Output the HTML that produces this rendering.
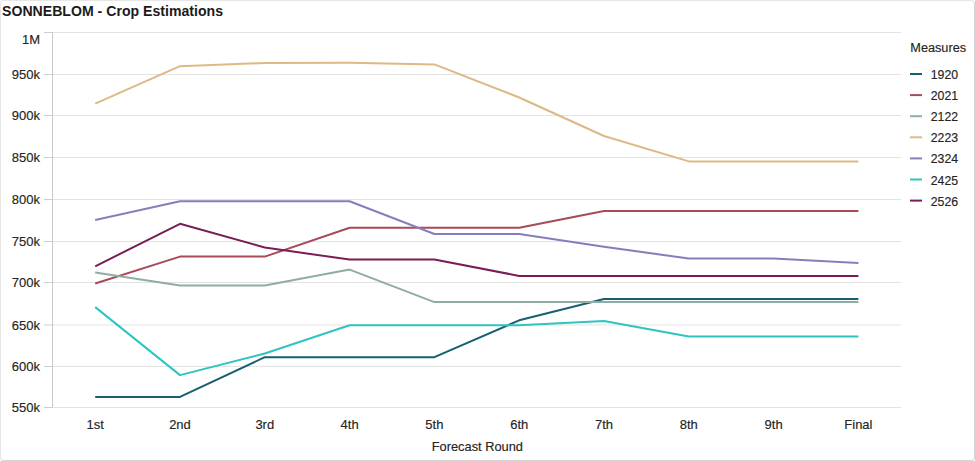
<!DOCTYPE html>
<html><head><meta charset="utf-8"><style>
html,body{margin:0;padding:0;background:#fff;}
.wrap{position:relative;width:975px;height:461px;overflow:hidden;background:#fff;}
.border{position:absolute;left:0;top:0;width:973px;height:459px;border:1px solid #e6e6e6;border-right-color:#d4d4d4;border-bottom-color:#d4d4d4;border-radius:4px;}
.title{position:absolute;left:2px;top:0px;font-family:"Liberation Sans", sans-serif;font-weight:bold;font-size:14px;color:#1b1b1b;line-height:24px;white-space:nowrap;}
svg{position:absolute;left:0;top:0;}
svg text{font-family:"Liberation Sans", sans-serif;}
svg text.t{stroke:#252423;stroke-width:0.15px;}
</style></head><body><div class="wrap">
<div class="border"></div>
<svg width="975" height="461" viewBox="0 0 975 461">
<line x1="52" y1="32.50" x2="901" y2="32.50" stroke="#e3e3e3" stroke-width="1"/>
<line x1="44" y1="32.50" x2="52" y2="32.50" stroke="#cdcdcd" stroke-width="1"/>
<text x="40" y="44.00" text-anchor="end" font-size="13" fill="#252423" class="t">1M</text>
<line x1="52" y1="74.50" x2="901" y2="74.50" stroke="#e3e3e3" stroke-width="1"/>
<line x1="44" y1="74.50" x2="52" y2="74.50" stroke="#cdcdcd" stroke-width="1"/>
<text x="40" y="79.10" text-anchor="end" font-size="13" fill="#252423" class="t">950k</text>
<line x1="52" y1="115.50" x2="901" y2="115.50" stroke="#e3e3e3" stroke-width="1"/>
<line x1="44" y1="115.50" x2="52" y2="115.50" stroke="#cdcdcd" stroke-width="1"/>
<text x="40" y="120.10" text-anchor="end" font-size="13" fill="#252423" class="t">900k</text>
<line x1="52" y1="157.50" x2="901" y2="157.50" stroke="#e3e3e3" stroke-width="1"/>
<line x1="44" y1="157.50" x2="52" y2="157.50" stroke="#cdcdcd" stroke-width="1"/>
<text x="40" y="162.10" text-anchor="end" font-size="13" fill="#252423" class="t">850k</text>
<line x1="52" y1="199.50" x2="901" y2="199.50" stroke="#e3e3e3" stroke-width="1"/>
<line x1="44" y1="199.50" x2="52" y2="199.50" stroke="#cdcdcd" stroke-width="1"/>
<text x="40" y="204.10" text-anchor="end" font-size="13" fill="#252423" class="t">800k</text>
<line x1="52" y1="241.50" x2="901" y2="241.50" stroke="#e3e3e3" stroke-width="1"/>
<line x1="44" y1="241.50" x2="52" y2="241.50" stroke="#cdcdcd" stroke-width="1"/>
<text x="40" y="246.10" text-anchor="end" font-size="13" fill="#252423" class="t">750k</text>
<line x1="52" y1="282.50" x2="901" y2="282.50" stroke="#e3e3e3" stroke-width="1"/>
<line x1="44" y1="282.50" x2="52" y2="282.50" stroke="#cdcdcd" stroke-width="1"/>
<text x="40" y="287.10" text-anchor="end" font-size="13" fill="#252423" class="t">700k</text>
<line x1="52" y1="325.00" x2="901" y2="325.00" stroke="#e3e3e3" stroke-width="1"/>
<line x1="44" y1="325.00" x2="52" y2="325.00" stroke="#cdcdcd" stroke-width="1"/>
<text x="40" y="329.60" text-anchor="end" font-size="13" fill="#252423" class="t">650k</text>
<line x1="52" y1="366.50" x2="901" y2="366.50" stroke="#e3e3e3" stroke-width="1"/>
<line x1="44" y1="366.50" x2="52" y2="366.50" stroke="#cdcdcd" stroke-width="1"/>
<text x="40" y="371.10" text-anchor="end" font-size="13" fill="#252423" class="t">600k</text>
<line x1="52" y1="407.50" x2="901" y2="407.50" stroke="#e3e3e3" stroke-width="1"/>
<line x1="44" y1="407.50" x2="52" y2="407.50" stroke="#cdcdcd" stroke-width="1"/>
<text x="40" y="412.10" text-anchor="end" font-size="13" fill="#252423" class="t">550k</text>
<line x1="52.5" y1="32" x2="52.5" y2="407.5" stroke="#c8c8c8" stroke-width="1"/>
<text x="95.2" y="429.0" text-anchor="middle" font-size="13" fill="#252423" class="t">1st</text>
<text x="180.0" y="429.0" text-anchor="middle" font-size="13" fill="#252423" class="t">2nd</text>
<text x="264.8" y="429.0" text-anchor="middle" font-size="13" fill="#252423" class="t">3rd</text>
<text x="349.6" y="429.0" text-anchor="middle" font-size="13" fill="#252423" class="t">4th</text>
<text x="434.4" y="429.0" text-anchor="middle" font-size="13" fill="#252423" class="t">5th</text>
<text x="519.2" y="429.0" text-anchor="middle" font-size="13" fill="#252423" class="t">6th</text>
<text x="604.0" y="429.0" text-anchor="middle" font-size="13" fill="#252423" class="t">7th</text>
<text x="688.8" y="429.0" text-anchor="middle" font-size="13" fill="#252423" class="t">8th</text>
<text x="773.6" y="429.0" text-anchor="middle" font-size="13" fill="#252423" class="t">9th</text>
<text x="858.4" y="429.0" text-anchor="middle" font-size="13" fill="#252423" class="t">Final</text>
<text x="431.7" y="451.2" font-size="13.2" textLength="91.3" lengthAdjust="spacingAndGlyphs" fill="#252423" class="t">Forecast Round</text>
<polyline points="95.2,396.9 180.0,396.9 264.8,357.2 349.6,357.2 434.4,357.2 519.2,320.3 604.0,299.0 688.8,299.0 773.6,299.0 858.4,299.0" fill="none" stroke="#176072" stroke-width="2" stroke-linejoin="round"/>
<polyline points="95.2,283.5 180.0,256.6 264.8,256.6 349.6,227.7 434.4,227.7 519.2,227.7 604.0,211.0 688.8,211.0 773.6,211.0 858.4,211.0" fill="none" stroke="#a84a58" stroke-width="2" stroke-linejoin="round"/>
<polyline points="95.2,272.6 180.0,285.4 264.8,285.6 349.6,269.6 434.4,302.1 519.2,302.1 604.0,301.9 688.8,301.9 773.6,301.9 858.4,301.9" fill="none" stroke="#8eada3" stroke-width="2" stroke-linejoin="round"/>
<polyline points="95.2,103.6 180.0,66.2 264.8,63.0 349.6,62.8 434.4,64.4 519.2,97.5 604.0,136.0 688.8,161.4 773.6,161.4 858.4,161.4" fill="none" stroke="#ddb985" stroke-width="2" stroke-linejoin="round"/>
<polyline points="95.2,220.0 180.0,201.3 264.8,201.3 349.6,201.3 434.4,234.0 519.2,234.0 604.0,246.8 688.8,258.5 773.6,258.5 858.4,262.9" fill="none" stroke="#857ebd" stroke-width="2" stroke-linejoin="round"/>
<polyline points="95.2,307.1 180.0,375.1 264.8,353.5 349.6,325.3 434.4,325.3 519.2,325.3 604.0,321.0 688.8,336.4 773.6,336.4 858.4,336.5" fill="none" stroke="#2ec4c0" stroke-width="2" stroke-linejoin="round"/>
<polyline points="95.2,266.3 180.0,223.8 264.8,247.5 349.6,259.6 434.4,259.6 519.2,275.9 604.0,275.9 688.8,275.9 773.6,275.9 858.4,275.9" fill="none" stroke="#7a1d56" stroke-width="2" stroke-linejoin="round"/>
<text x="2" y="16.2" font-size="14.2" font-weight="bold" textLength="221" lengthAdjust="spacingAndGlyphs" fill="#1b1b1b">SONNEBLOM - Crop Estimations</text>
<text x="910.3" y="51.8" font-size="12.5" textLength="55.8" lengthAdjust="spacingAndGlyphs" fill="#252423" class="t">Measures</text>
<line x1="910" y1="74.0" x2="922" y2="74.0" stroke="#176072" stroke-width="2"/>
<text x="930.7" y="79.0" font-size="12.2" textLength="27.4" lengthAdjust="spacingAndGlyphs" fill="#252423" class="t">1920</text>
<line x1="910" y1="95.1" x2="922" y2="95.1" stroke="#a84a58" stroke-width="2"/>
<text x="930.7" y="100.1" font-size="12.2" textLength="27.4" lengthAdjust="spacingAndGlyphs" fill="#252423" class="t">2021</text>
<line x1="910" y1="116.2" x2="922" y2="116.2" stroke="#8eada3" stroke-width="2"/>
<text x="930.7" y="121.2" font-size="12.2" textLength="27.4" lengthAdjust="spacingAndGlyphs" fill="#252423" class="t">2122</text>
<line x1="910" y1="137.3" x2="922" y2="137.3" stroke="#ddb985" stroke-width="2"/>
<text x="930.7" y="142.3" font-size="12.2" textLength="27.4" lengthAdjust="spacingAndGlyphs" fill="#252423" class="t">2223</text>
<line x1="910" y1="158.4" x2="922" y2="158.4" stroke="#857ebd" stroke-width="2"/>
<text x="930.7" y="163.4" font-size="12.2" textLength="27.4" lengthAdjust="spacingAndGlyphs" fill="#252423" class="t">2324</text>
<line x1="910" y1="179.5" x2="922" y2="179.5" stroke="#2ec4c0" stroke-width="2"/>
<text x="930.7" y="184.5" font-size="12.2" textLength="27.4" lengthAdjust="spacingAndGlyphs" fill="#252423" class="t">2425</text>
<line x1="910" y1="200.6" x2="922" y2="200.6" stroke="#7a1d56" stroke-width="2"/>
<text x="930.7" y="205.6" font-size="12.2" textLength="27.4" lengthAdjust="spacingAndGlyphs" fill="#252423" class="t">2526</text>
</svg>
</div></body></html>
